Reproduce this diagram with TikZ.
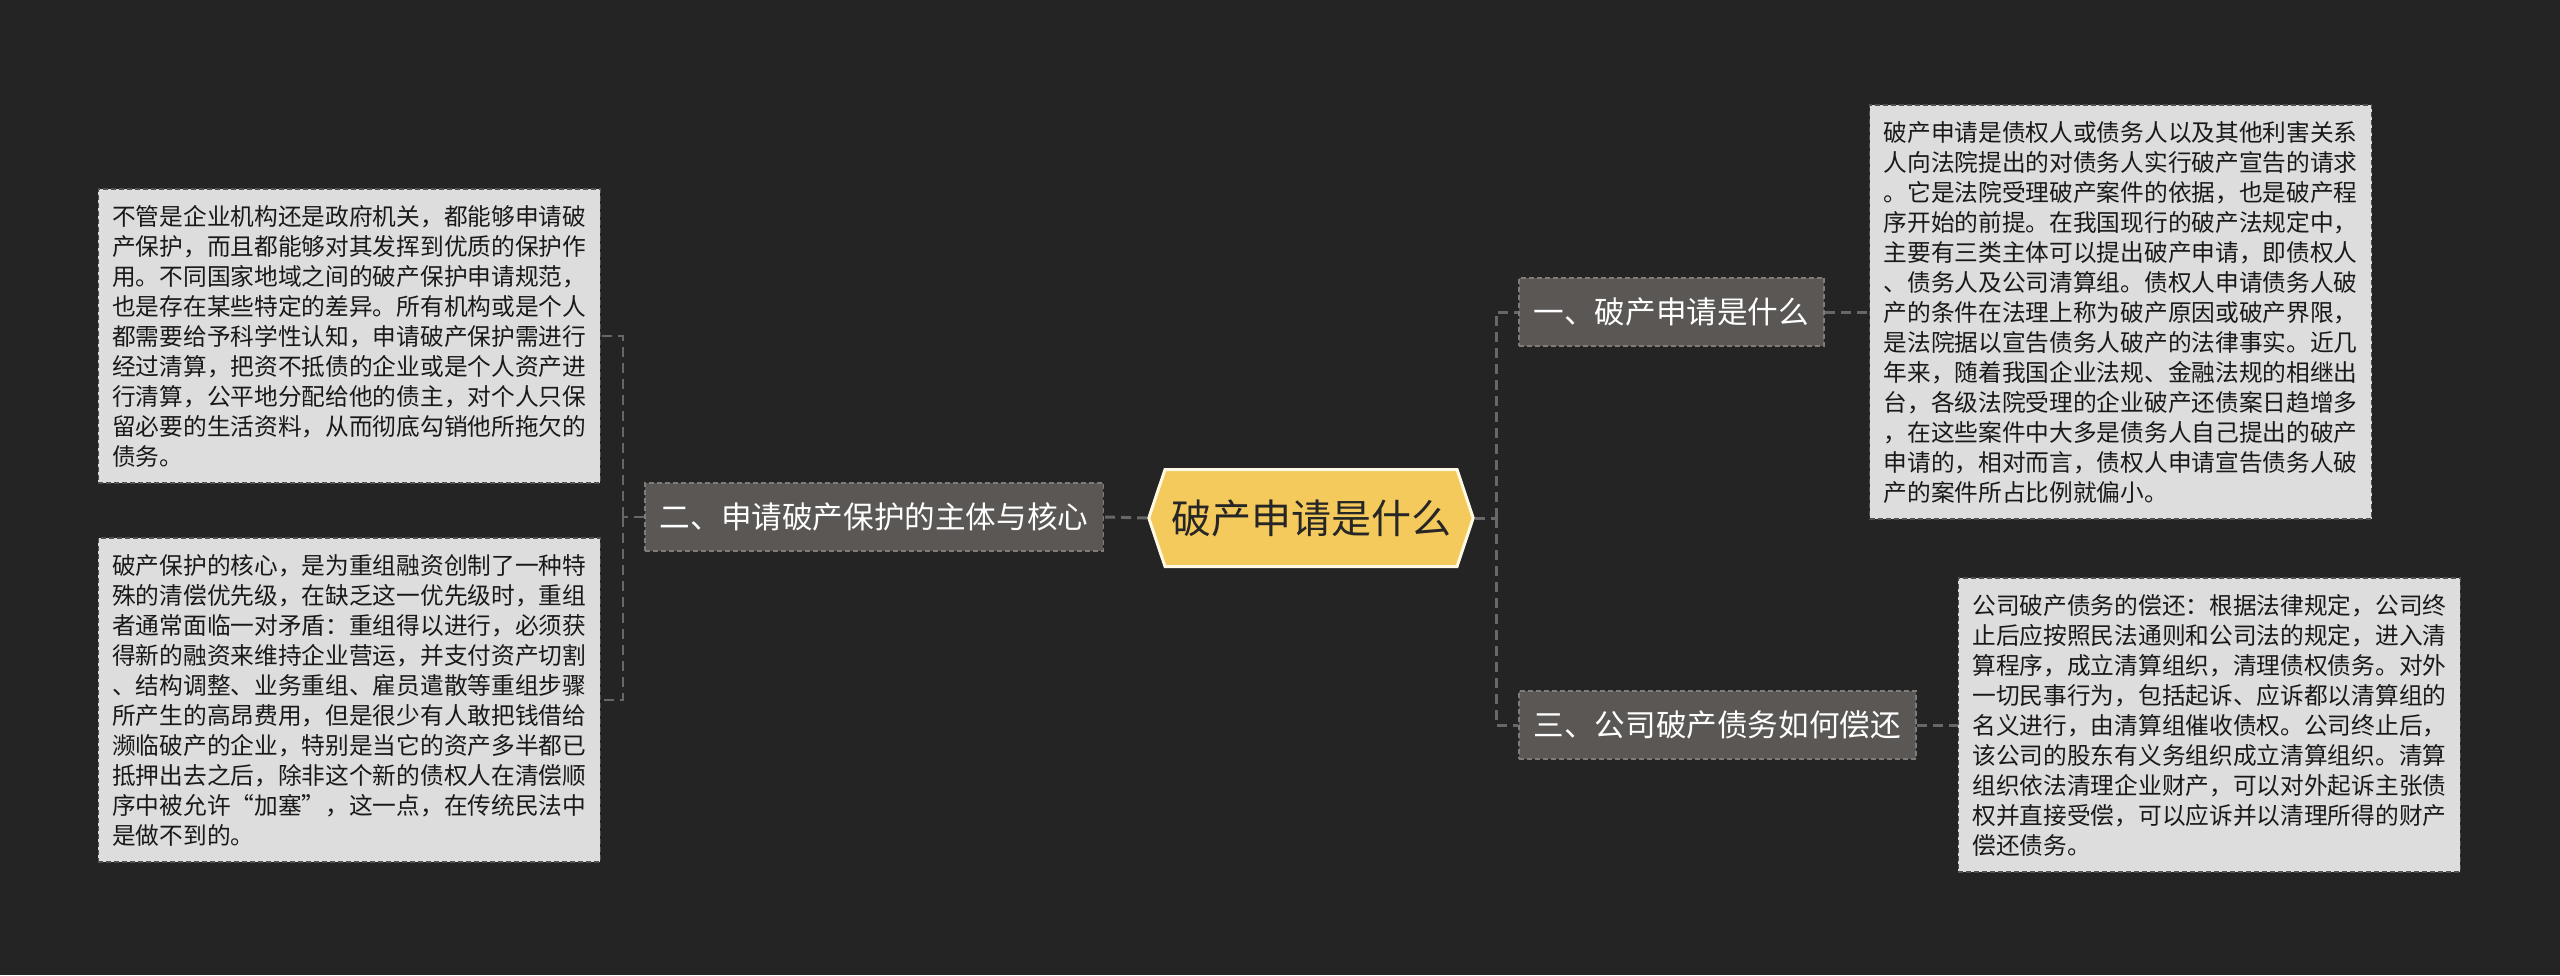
\documentclass[tikz,border=0pt]{standalone}
\usepackage{fontspec}
\setmainfont{Noto Sans CJK SC}
\usepackage{tikz}
\usetikzlibrary{positioning, shapes.symbols}
\definecolor{bgdark}{HTML}{242424}
\definecolor{linkgray}{HTML}{676767}
\definecolor{subfill}{HTML}{5B5755}
\definecolor{subedge}{HTML}{7E7B79}
\definecolor{leaffill}{HTML}{DDDDDD}
\definecolor{leafedge}{HTML}{505050}
\definecolor{hubfill}{HTML}{F5CA5D}
\definecolor{hubedge}{HTML}{FFF9E3}

\begin{document}
\begin{tikzpicture}[
  x=1pt, y=-1pt,
  hub/.style={signal, signal to=west and east, signal pointer angle=143,
    fill=hubfill, draw=hubedge, line width=3pt, minimum height=97pt,
    inner xsep=6pt, inner ysep=0pt, text=black!85,
    font=\fontsize{40}{48}\selectfont},
  topic/.style={fill=subfill, draw=subedge, line width=1.5pt,
    dash pattern=on 5pt off 3pt, minimum height=68pt, inner xsep=15pt,
    text=white, font=\fontsize{30.6}{36}\selectfont},
  leaf/.style={fill=leaffill, draw=leafedge, line width=1.5pt,
    dash pattern=on 5pt off 3pt, align=left, inner xsep=14pt, inner ysep=16pt,
    text=black!90, font=\fontsize{23.7}{30}\selectfont},
  link/.style={draw=linkgray, line width=3pt, dash pattern=on 10pt off 6pt},
  thinlink/.style={draw=linkgray, line width=2pt, dash pattern=on 10pt off 6pt}
]
  \fill[bgdark] (0,0) rectangle (2560,975);
  \useasboundingbox (0,0) rectangle (2560,975);

  % centre and main topics
  \node[hub] (hub) at (1311,518) {破产申请是什么};
  \node[topic, anchor=east] (sub2) at (1104,517) {二、申请破产保护的主体与核心};
  \node[topic, anchor=west] (sub1) at (1518,312) {一、破产申请是什么};
  \node[topic, anchor=west] (sub3) at (1518,725) {三、公司破产债务如何偿还};

  % detail texts
  \node[leaf, anchor=east] (leafA) at (601,336) {%
    不管是企业机构还是政府机关，都能够申请破\\
    产保护，而且都能够对其发挥到优质的保护作\\
    用。不同国家地域之间的破产保护申请规范，\\
    也是存在某些特定的差异。所有机构或是个人\\
    都需要给予科学性认知，申请破产保护需进行\\
    经过清算，把资不抵债的企业或是个人资产进\\
    行清算，公平地分配给他的债主，对个人只保\\
    留必要的生活资料，从而彻底勾销他所拖欠的\\
    债务。};
  \node[leaf, anchor=east] (leafB) at (601,700) {%
    破产保护的核心，是为重组融资创制了一种特\\
    殊的清偿优先级，在缺乏这一优先级时，重组\\
    者通常面临一对矛盾：重组得以进行，必须获\\
    得新的融资来维持企业营运，并支付资产切割\\
    、结构调整、业务重组、雇员遣散等重组步骤\\
    所产生的高昂费用，但是很少有人敢把钱借给\\
    濒临破产的企业，特别是当它的资产多半都已\\
    抵押出去之后，除非这个新的债权人在清偿顺\\
    序中被允许“加塞”，这一点，在传统民法中\\
    是做不到的。};
  \node[leaf, right=44pt of sub1] (leafC) {%
    破产申请是债权人或债务人以及其他利害关系\\
    人向法院提出的对债务人实行破产宣告的请求\\
    。它是法院受理破产案件的依据，也是破产程\\
    序开始的前提。在我国现行的破产法规定中，\\
    主要有三类主体可以提出破产申请，即债权人\\
    、债务人及公司清算组。债权人申请债务人破\\
    产的条件在法理上称为破产原因或破产界限，\\
    是法院据以宣告债务人破产的法律事实。近几\\
    年来，随着我国企业法规、金融法规的相继出\\
    台，各级法院受理的企业破产还债案日趋增多\\
    ，在这些案件中大多是债务人自己提出的破产\\
    申请的，相对而言，债权人申请宣告债务人破\\
    产的案件所占比例就偏小。};
  \node[leaf, right=41pt of sub3] (leafD) {%
    公司破产债务的偿还：根据法律规定，公司终\\
    止后应按照民法通则和公司法的规定，进入清\\
    算程序，成立清算组织，清理债权债务。对外\\
    一切民事行为，包括起诉、应诉都以清算组的\\
    名义进行，由清算组催收债权。公司终止后，\\
    该公司的股东有义务组织成立清算组织。清算\\
    组织依法清理企业财产，可以对外起诉主张债\\
    权并直接受偿，可以应诉并以清理所得的财产\\
    偿还债务。};

  % connectors
  \coordinate (jl) at (623,517);
  \coordinate (jr) at (1496,518);
  \draw[link] (hub.west) -- (sub2.east);
  \draw[thinlink] (sub2.west) -- (jl);
  \draw[thinlink] (jl) |- (leafA.east);
  \draw[thinlink] (jl) |- (leafB.east);
  \draw[link] (hub.east) -- (jr);
  \draw[link] (jr) |- (sub1.west);
  \draw[link] (jr) |- (sub3.west);
  \draw[link] (sub1.east) -- (leafC.west);
  \draw[link] (sub3.east) -- (leafD.west);
\end{tikzpicture}
\end{document}
